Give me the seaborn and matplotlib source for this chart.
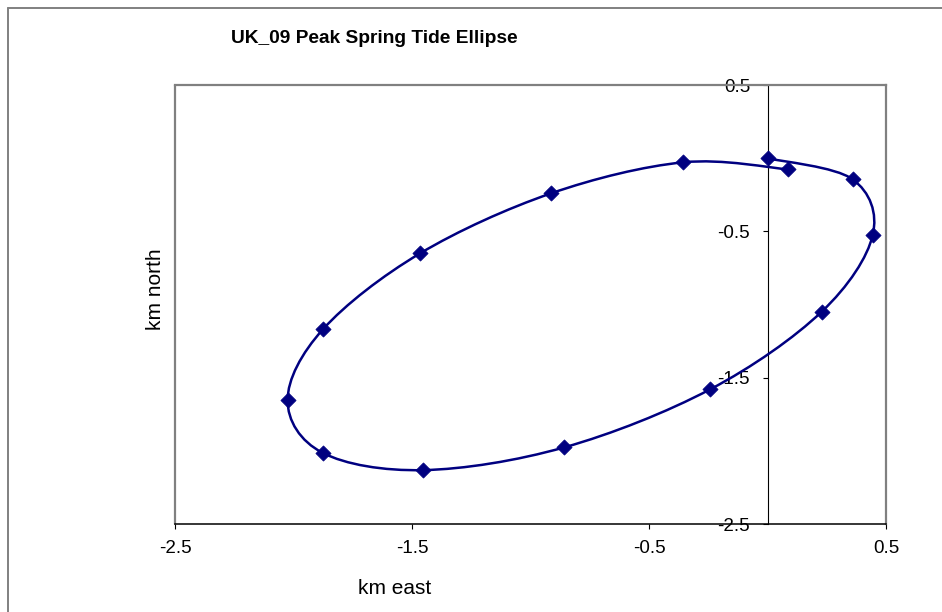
import numpy as np
import pandas as pd
import matplotlib
matplotlib.use("Agg")
import matplotlib.pyplot as plt
from matplotlib.path import Path
from matplotlib.patches import PathPatch
from matplotlib.lines import Line2D
import seaborn as sns

# ---- data (km east / km north of the tidal excursion) ----
east = [0.0, 0.359, 0.444, 0.228, -0.243, -0.859, -1.453, -1.878, -2.026, -1.876, -1.467, -0.914, -0.356, 0.087]
north = [0.0, -0.144, -0.525, -1.049, -1.579, -1.975, -2.130, -2.012, -1.652, -1.167, -0.650, -0.240, -0.028, -0.076]
tick_values = [-2.5, -1.5, -0.5, 0.5]
tick_labels = ["-2.5", "-1.5", "-0.5", "0.5"]
title = "UK_09 Peak Spring Tide Ellipse"
xlabel = "km east"
ylabel = "km north"

sns.set_theme(style="white")
plt.rcParams["font.family"] = ["Liberation Sans", "DejaVu Sans"]

W, H = 942, 612
fig = plt.figure(figsize=(W / 100, H / 100), dpi=100)
fig.patch.set_facecolor("white")
ax = fig.add_axes([175.3 / W, 1 - 524.3 / H, (886 - 175.3) / W, (524.3 - 85) / H])
ax.set_facecolor("white")

navy = "#000080"
df = pd.DataFrame({"east": east, "north": north})

# smoothed line (Excel-style Bezier through the points)
pts = df[["east", "north"]].to_numpy()
n = len(pts)
verts = [pts[0]]
codes = [Path.MOVETO]
for i in range(n - 1):
    p0 = pts[max(i - 1, 0)]
    p1 = pts[i]
    p2 = pts[i + 1]
    p3 = pts[min(i + 2, n - 1)]
    c1 = p1 + (p2 - p0) / 6.0
    c2 = p2 - (p3 - p1) / 6.0
    verts += [c1, c2, p2]
    codes += [Path.CURVE4] * 3
ax.add_patch(PathPatch(Path(verts, codes), fill=False, edgecolor=navy, lw=1.8, zorder=3))

sns.scatterplot(data=df, x="east", y="north", marker="D", s=60, color=navy,
                edgecolor=navy, linewidth=0.5, ax=ax, zorder=4, legend=False)

ax.set_xlim(-2.5, 0.5)
ax.set_ylim(-2.5, 0.5)
ax.set_xticks(tick_values)
ax.set_xticklabels(tick_labels)
ax.set_yticks(tick_values)
ax.set_yticklabels(tick_labels)
ax.set_xlabel("")
ax.set_ylabel("")
ax.grid(False)

ax.spines["left"].set_position(("data", 0))
ax.spines["left"].set_color("black")
ax.spines["left"].set_linewidth(0.8)
ax.spines["bottom"].set_color("black")
ax.spines["bottom"].set_linewidth(1.1)
for s in ("top", "right"):
    ax.spines[s].set_visible(True)
    ax.spines[s].set_color("#808080")
    ax.spines[s].set_linewidth(1.6)
ax.axvline(-2.5, color="#808080", lw=1.6, clip_on=False, zorder=1)

ax.tick_params(axis="both", which="both", direction="out", length=3.6, width=0.8,
               color="black", labelsize=13.5, labelcolor="black")
ax.tick_params(axis="y", pad=9, left=True)
ax.tick_params(axis="x", pad=7.5, bottom=True)

fig.text(231 / W, 1 - 43.3 / H, title, ha="left", va="baseline",
         fontsize=13.8, fontweight="bold", color="black")
fig.text(394.7 / W, 1 - 594 / H, xlabel, ha="center", va="baseline", fontsize=15, color="black")
fig.text(160.7 / W, 1 - 289 / H, ylabel, ha="center", va="baseline", rotation=90,
         rotation_mode="anchor", fontsize=15, color="black")

# chart-area border
fig.add_artist(Line2D([8 / W, 8 / W], [1 - 8 / H, 0], transform=fig.transFigure,
                      color="#808080", lw=1.4))
fig.add_artist(Line2D([8 / W, 1], [1 - 8 / H, 1 - 8 / H], transform=fig.transFigure,
                      color="#808080", lw=1.4))

fig.savefig("out.png", dpi=100, facecolor="white")
